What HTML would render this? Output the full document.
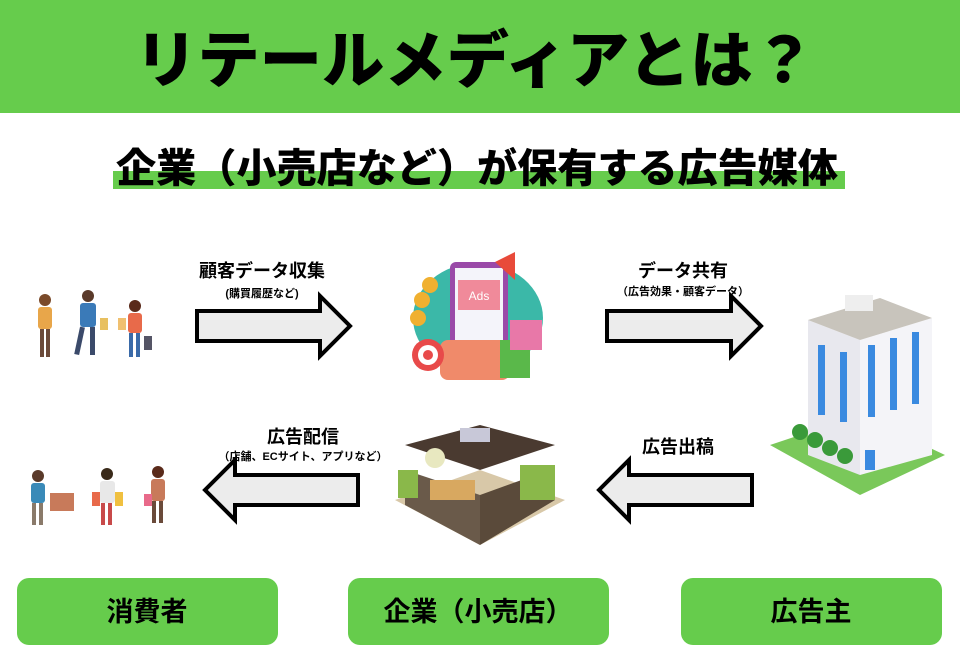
<!DOCTYPE html>
<html><head><meta charset="utf-8"><style>
body{margin:0;width:960px;height:657px;background:#fff;overflow:hidden;font-family:"Liberation Sans","Noto Sans CJK JP",sans-serif;}
</style></head><body>
<svg width="960" height="657" viewBox="0 0 960 657" xmlns="http://www.w3.org/2000/svg" style="font-family:'Liberation Sans','Noto Sans CJK JP',sans-serif;font-weight:bold">
<rect x="0" y="0" width="960" height="113" fill="#66cc4c"/>
<text x="475" y="82" font-size="62" text-anchor="middle" fill="#000" font-weight="900" textLength="680" lengthAdjust="spacingAndGlyphs">リテールメディアとは？</text>
<rect x="113" y="171" width="732" height="18" fill="#66cc4c"/>
<text x="477" y="182" font-size="40" text-anchor="middle" fill="#000" font-weight="900" textLength="722" lengthAdjust="spacingAndGlyphs">企業（小売店など）が保有する広告媒体</text>

<g stroke="#000" stroke-width="4" fill="#ececec" stroke-linejoin="miter">
<polygon points="197,311 320,311 320,296 350,326 320,356 320,341 197,341"/>
<polygon points="607,311 731,311 731,296 761,326 731,356 731,341 607,341"/>
<polygon points="358,475 235,475 235,460 205,490 235,520 235,505 358,505"/>
<polygon points="752,475 629,475 629,460 599,490 629,520 629,505 752,505"/>
</g>

<text x="262" y="277" font-size="18" text-anchor="middle">顧客データ収集</text>
<text x="262" y="297" font-size="11" text-anchor="middle">(購買履歴など)</text>
<text x="683" y="277" font-size="18" text-anchor="middle">データ共有</text>
<text x="683" y="295" font-size="11" text-anchor="middle">（広告効果・顧客データ）</text>
<text x="303" y="443" font-size="18" text-anchor="middle">広告配信</text>
<text x="303" y="460" font-size="11" text-anchor="middle">（店舗、ECサイト、アプリなど）</text>
<text x="678" y="453" font-size="18" text-anchor="middle">広告出稿</text>

<!-- people top -->
<g>
<circle cx="45" cy="300" r="6" fill="#7a4a2a"/><rect x="38" y="307" width="14" height="22" rx="3" fill="#e8a64a"/><rect x="40" y="329" width="4" height="28" fill="#6b4a3a"/><rect x="46" y="329" width="4" height="28" fill="#6b4a3a"/>
<circle cx="88" cy="296" r="6" fill="#5a3a2a"/><rect x="80" y="303" width="16" height="24" rx="3" fill="#3a7ab8"/><rect x="80" y="327" width="5" height="28" fill="#3b4a6a" transform="rotate(12 82 327)"/><rect x="90" y="327" width="5" height="28" fill="#3b4a6a"/><rect x="100" y="318" width="8" height="12" fill="#e8c060"/>
<circle cx="135" cy="306" r="6" fill="#5a2a1a"/><rect x="128" y="313" width="14" height="20" rx="3" fill="#e86a4a"/><rect x="129" y="333" width="4" height="24" fill="#3a6aa8"/><rect x="136" y="333" width="4" height="24" fill="#3a6aa8"/><rect x="118" y="318" width="8" height="12" fill="#f0c070"/><rect x="144" y="336" width="8" height="14" fill="#556"/>
</g>
<!-- phone ads -->
<g>
<ellipse cx="478" cy="318" rx="65" ry="55" fill="#3bb8a8"/>
<rect x="450" y="262" width="58" height="100" rx="6" fill="#9a4aa8"/>
<rect x="455" y="268" width="48" height="88" fill="#f4f4fa"/>
<rect x="458" y="280" width="42" height="30" fill="#f08a9a"/>
<text x="479" y="300" font-size="12" fill="#fff" font-weight="normal" text-anchor="middle">Ads</text>
<rect x="440" y="340" width="70" height="40" rx="8" fill="#f08a6a"/>
<circle cx="428" cy="355" r="16" fill="#e84a4a"/><circle cx="428" cy="355" r="10" fill="#fff"/><circle cx="428" cy="355" r="5" fill="#e84a4a"/>
<circle cx="422" cy="300" r="8" fill="#f0b030"/><circle cx="418" cy="318" r="8" fill="#f0b030"/><circle cx="430" cy="285" r="8" fill="#f0b030"/>
<rect x="500" y="340" width="30" height="38" fill="#5ab84a"/><rect x="510" y="320" width="32" height="30" fill="#e878a8"/>
<polygon points="495,262 515,252 515,280" fill="#e84a3a"/>
</g>
<!-- shop -->
<g>
<polygon points="480,470 565,500 480,545 395,500" fill="#d8c8a8"/>
<polygon points="405,470 480,495 480,545 405,505" fill="#6a5a4a"/>
<polygon points="480,495 555,468 555,500 480,545" fill="#5a4a3a"/>
<polygon points="405,445 480,425 555,445 480,470" fill="#4a3a30"/>
<rect x="430" y="480" width="45" height="20" fill="#d8a860"/>
<rect x="520" y="465" width="35" height="35" fill="#8ab84a"/><rect x="398" y="470" width="20" height="28" fill="#8ab84a"/>
<rect x="460" y="428" width="30" height="14" fill="#c8c8d8"/>
<circle cx="435" cy="458" r="10" fill="#e8e8c0"/>
</g>
<!-- building -->
<g>
<polygon points="770,445 860,415 945,455 860,495" fill="#7ac85a"/>
<polygon points="808,320 860,340 860,475 808,455" fill="#e8e8ee"/>
<polygon points="860,340 932,318 932,455 860,475" fill="#f4f4f8"/>
<polygon points="808,320 880,298 932,318 860,340" fill="#c8c4bc"/>
<rect x="845" y="295" width="28" height="16" fill="#eee"/>
<g fill="#3a8ae0">
<rect x="818" y="345" width="7" height="70"/><rect x="840" y="352" width="7" height="70"/>
<rect x="868" y="345" width="7" height="72"/><rect x="890" y="338" width="7" height="72"/><rect x="912" y="332" width="7" height="72"/>
<rect x="865" y="450" width="10" height="20"/>
</g>
<g fill="#3a9a3a"><circle cx="800" cy="432" r="8"/><circle cx="815" cy="440" r="8"/><circle cx="830" cy="448" r="8"/><circle cx="845" cy="456" r="8"/></g>
</g>
<!-- people bottom -->
<g>
<circle cx="38" cy="476" r="6" fill="#5a3a2a"/><rect x="31" y="483" width="14" height="20" rx="3" fill="#3a8ab8"/><rect x="32" y="503" width="4" height="22" fill="#8a7a6a"/><rect x="39" y="503" width="4" height="22" fill="#8a7a6a"/><rect x="50" y="493" width="24" height="18" fill="#c87a5a"/>
<circle cx="107" cy="474" r="6" fill="#3a2a1a"/><rect x="100" y="481" width="15" height="22" rx="3" fill="#e8e8e8"/><rect x="101" y="503" width="4" height="22" fill="#c84a4a"/><rect x="108" y="503" width="4" height="22" fill="#c84a4a"/><rect x="92" y="492" width="8" height="14" fill="#e86a4a"/><rect x="115" y="492" width="8" height="14" fill="#f0c040"/>
<circle cx="158" cy="472" r="6" fill="#5a2a1a"/><rect x="151" y="479" width="14" height="22" rx="3" fill="#c87a5a"/><rect x="152" y="501" width="4" height="22" fill="#6a4a3a"/><rect x="159" y="501" width="4" height="22" fill="#6a4a3a"/><rect x="144" y="494" width="8" height="12" fill="#e86a8a"/>
</g>

<g fill="#66cc4c">
<rect x="17" y="578" width="261" height="67" rx="12"/>
<rect x="348" y="578" width="261" height="67" rx="12"/>
<rect x="681" y="578" width="261" height="67" rx="12"/>
</g>
<text x="147" y="621" font-size="27" text-anchor="middle">消費者</text>
<text x="478" y="621" font-size="27" text-anchor="middle">企業（小売店）</text>
<text x="811" y="621" font-size="27" text-anchor="middle">広告主</text>
</svg>
</body></html>
